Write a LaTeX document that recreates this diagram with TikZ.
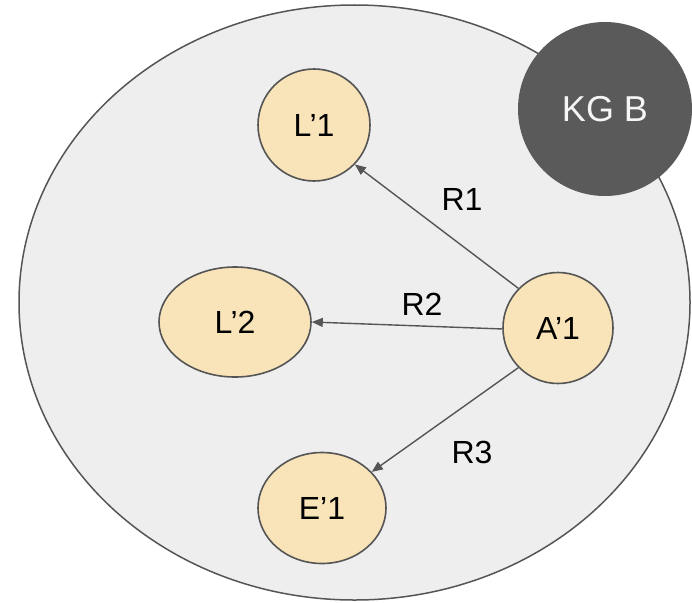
\documentclass[tikz,border=0pt]{standalone}
\usepackage{fontspec}
\setmainfont{Liberation Sans}
\usetikzlibrary{shapes.geometric,arrows.meta}

\definecolor{graphfill}{HTML}{EEEEEE}
\definecolor{edgegray}{HTML}{555555}
\definecolor{entityfill}{HTML}{F8E4B8}
\definecolor{kgdark}{HTML}{5A5A5A}

\tikzset{
  graph/.style={ellipse, draw=edgegray, line width=1.5pt, fill=graphfill,
    minimum width=671pt, minimum height=595pt, inner sep=0pt},
  entity/.style={ellipse, draw=edgegray, line width=1.6pt, fill=entityfill,
    inner sep=0pt, font=\fontsize{32}{32}\selectfont},
  kgbadge/.style={circle, fill=kgdark, text=white!96!black, minimum size=174pt,
    inner sep=0pt, font=\fontsize{36}{36}\selectfont},
  relation/.style={draw=edgegray, line width=1.4pt,
    -{Triangle[length=11pt,width=9pt]}},
  rellabel/.style={inner sep=0pt, font=\fontsize{32}{32}\selectfont}
}

\begin{document}
\begin{tikzpicture}[x=1pt,y=-1pt]
  \useasboundingbox (0,0) rectangle (692,602);

  % knowledge graph boundary and its badge
  \node[graph] (kg) at (354.5,302.5) {};
  \node[kgbadge] (kgb) at (605,109) {KG B};

  % entities
  \node[entity, minimum width=112pt, minimum height=112pt] (l1) at (314,125) {L’1};
  \node[entity, minimum width=152pt, minimum height=110pt] (l2) at (235,322) {L’2};
  \node[entity, minimum width=110pt, minimum height=111pt] (a1) at (558,328) {A’1};
  \node[entity, minimum width=128pt, minimum height=111pt] (e1) at (322,508) {E’1};

  % relations
  \draw[relation] (a1.135) -- (l1.-44);
  \draw[relation] (a1.181) -- (l2.east);
  \draw[relation] (a1.225) -- (e1.36);

  % relation labels
  \node[rellabel] (r1) at (462,199) {R1};
  \node[rellabel] (r2) at (422,304) {R2};
  \node[rellabel] (r3) at (472,452) {R3};
\end{tikzpicture}
\end{document}
